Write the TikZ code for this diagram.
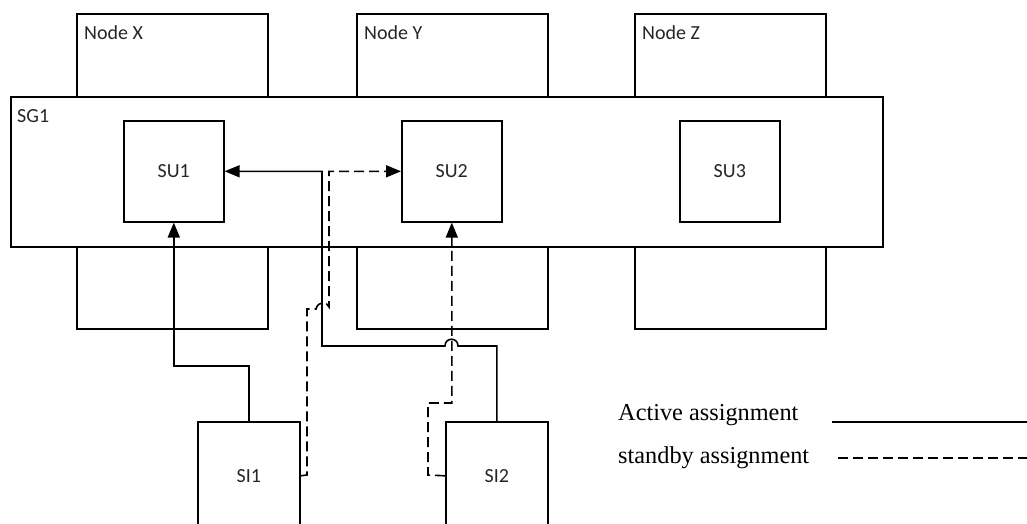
\documentclass[tikz,border=0pt]{standalone}
\usepackage{fontspec}
\setmainfont{Liberation Serif}
\newfontfamily\boxfont{Carlito}
\usetikzlibrary{arrows.meta}

\begin{document}
\begin{tikzpicture}[x=1pt,y=-1pt,>={Triangle[length=15pt,width=12pt]},
    box/.style={draw,line width=1.6pt,fill=white,inner sep=0pt,anchor=north west,
      font=\boxfont\fontsize{20}{23}\selectfont,text=black!85},
    hostbox/.style={box,minimum width=191pt,minimum height=315pt},
    unitbox/.style={box,minimum width=100pt,minimum height=101pt},
    sibox/.style={box,minimum width=102pt,minimum height=108pt},
    tag/.style={font=\boxfont\fontsize{20}{23}\selectfont,text=black!85,inner sep=0pt,anchor=base west},
    legend/.style={font=\fontsize{24.3}{27}\selectfont,inner sep=0pt,anchor=base west},
    active/.style={line width=1.6pt},
    standby/.style={line width=1.6pt,dash pattern=on 10pt off 5pt}]
  \clip (0,0) rectangle (1027,524);
  \node[hostbox] (nodex) at (76,13) {};
  \node[hostbox] (nodey) at (356,13) {};
  \node[hostbox] (nodez) at (634,13) {};
  \node[tag] (nodex-tag) at ([shift={(8,27)}]nodex.north west) {Node X};
  \node[tag] (nodey-tag) at ([shift={(8,27)}]nodey.north west) {Node Y};
  \node[tag] (nodez-tag) at ([shift={(8,27)}]nodez.north west) {Node Z};
  \node[box,minimum width=872pt,minimum height=150pt] (sg1) at (10,96) {};
  \node[tag] (sg1-tag) at ([shift={(7,27)}]sg1.north west) {SG1};
  \node[unitbox] (su1) at (123,120) {SU1};
  \node[unitbox] (su2) at (401,120) {SU2};
  \node[unitbox] (su3) at (679,120) {SU3};
  \node[sibox] (si1) at (197,421) {SI1};
  \node[sibox] (si2) at (445,421) {SI2};
  \draw[active,->] (si1.north) -- ++(0,-55) -| (su1.south);
  \draw[active,->] (si2.north) -- ++(0,-75) -- (458,346) .. controls (458,337) and (445,337) .. (445,346) -- (322,346) |- (su1.east);
  \draw[standby,->] (si1.east) -- (307,475) -- (307,309) -- (316,309) .. controls (318,301) and (327,301) .. (329,307) |- (su2.west);
  \draw[standby,->] (si2.west) -- (428,475) -- (428,403) -| (su2.south);
  \node[legend] (act-text) at (618,420) {Active assignment};
  \node[legend] (stb-text) at (618,463) {standby assignment};
  \coordinate (act-a) at (832,422);
  \coordinate (act-b) at (1027,422);
  \coordinate (stb-a) at (838,458);
  \coordinate (stb-b) at (1027,458);
  \draw[active] (act-a) -- (act-b);
  \draw[standby] (stb-a) -- (stb-b);
\end{tikzpicture}
\end{document}
